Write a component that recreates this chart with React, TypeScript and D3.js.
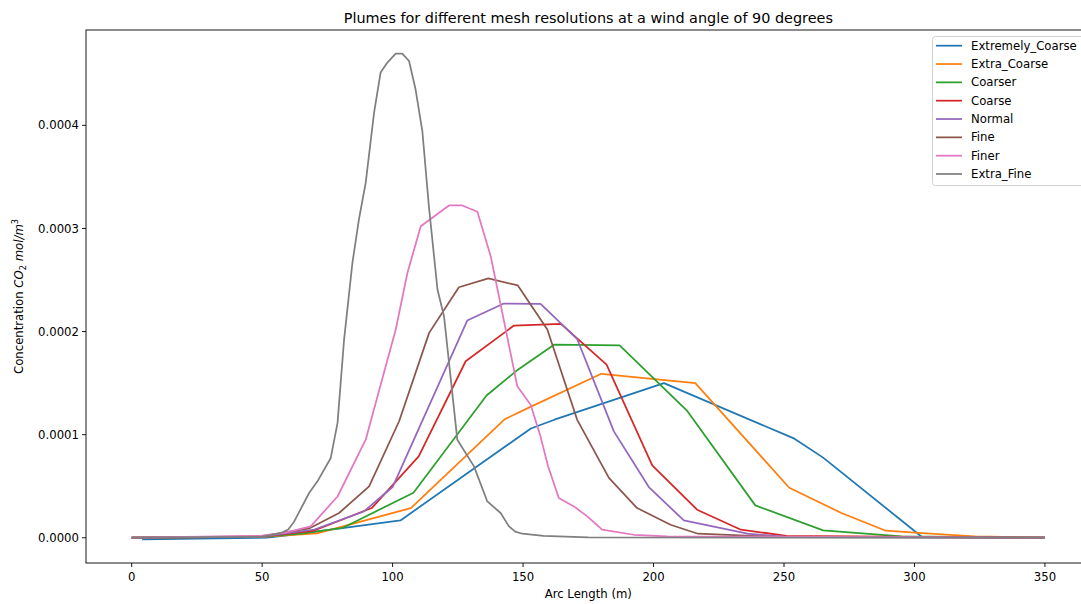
import React from "react";
import * as d3 from "d3";

const seriesNames = ["Extremely_Coarse", "Extra_Coarse", "Coarser", "Coarse", "Normal", "Fine", "Finer", "Extra_Fine"];
const seriesColors = ["#1f77b4", "#ff7f0e", "#2ca02c", "#d62728", "#9467bd", "#8c564b", "#e377c2", "#7f7f7f"];

const extremelyCoarseX = [4, 52, 62, 80, 103, 153, 162, 204, 254, 265, 303, 350];
const extremelyCoarseY = [-0.0000015, 0, 0.000003, 0.000009, 0.0000168, 0.000106, 0.0001145, 0.00015, 0.0000961, 0.0000777, 0.0000005, 0];

const extraCoarseX = [0, 50, 71, 107, 143, 152, 180, 216, 252, 272, 289, 303, 323, 350];
const extraCoarseY = [0, 0.0000008, 0.0000042, 0.0000288, 0.000115, 0.000126, 0.000159, 0.00015, 0.0000485, 0.000024, 0.0000068, 0.0000045, 0.0000013, 0];

const coarserX = [0, 50, 65, 81, 108, 136, 148, 162, 187, 213, 239, 265, 295, 350];
const coarserY = [0, 0.000001, 0.000004, 0.0000097, 0.0000437, 0.000138, 0.000163, 0.0001874, 0.0001867, 0.0001227, 0.0000314, 0.0000071, 0.0000013, 0];

const coarseX = [0, 50, 70, 92, 110, 128, 146.5, 164.5, 182, 199.5, 216.7, 233.5, 251, 350];
const coarseY = [0, 0.000001, 0.000007, 0.0000288, 0.0000789, 0.0001712, 0.0002058, 0.0002075, 0.000168, 0.0000702, 0.0000272, 0.0000078, 0.0000019, 0];

const normalX = [0, 50, 70, 89, 100, 128.6, 142.6, 156.7, 170.7, 184.8, 198.2, 211.6, 236, 250, 350];
const normalY = [0, 0.000001, 0.000008, 0.0000255, 0.0000492, 0.0002107, 0.0002272, 0.0002269, 0.000193, 0.0001032, 0.0000492, 0.0000168, 0.0000039, 0.000001, 0];

const fineX = [0, 50, 68, 79.5, 91, 102.5, 114, 125.4, 136.7, 148, 159.3, 170.7, 182.9, 193.7, 206.5, 217, 250, 350];
const fineY = [0, 0.0000015, 0.000009, 0.000024, 0.0000498, 0.000113, 0.0001987, 0.000243, 0.0002515, 0.0002447, 0.000202, 0.0001146, 0.000058, 0.0000288, 0.0000126, 0.0000039, 0.0000005, 0];

const finerX = [0, 50, 59, 68.6, 78.9, 89.7, 94.2, 101.2, 105.7, 110.8, 121.6, 126.7, 132.5, 137.6, 147.8, 152.9, 156.5, 159.5, 163.7, 169.5, 174.6, 180.3, 192.4, 205.2, 350];
const finerY = [0, 0.000002, 0.000005, 0.000011, 0.00004, 0.0000951, 0.000137, 0.000202, 0.000257, 0.0003022, 0.0003223, 0.0003223, 0.0003162, 0.0002731, 0.0001469, 0.000129, 0.0001, 0.00007, 0.0000385, 0.0000304, 0.0000207, 0.0000078, 0.0000029, 0.0000013, 0];

const extraFineX = [0, 50, 57.2, 60, 62.3, 68, 71.2, 76.3, 78.9, 81.4, 84.6, 87.1, 89.7, 92.9, 95.4, 98, 101.2, 103.7, 106.3, 108.8, 111.4, 113.9, 117.2, 119.7, 124.8, 131.2, 136.3, 141.4, 144.6, 147, 149.7, 157.8, 175, 350];
const extraFineY = [0, 0.000001, 0.0000046, 0.000008, 0.0000158, 0.0000434, 0.0000547, 0.0000774, 0.0001114, 0.000192, 0.0002667, 0.0003087, 0.0003444, 0.0004123, 0.0004512, 0.0004609, 0.0004696, 0.0004696, 0.0004624, 0.000435, 0.0003945, 0.0003217, 0.0002408, 0.0002149, 0.0000951, 0.0000692, 0.0000352, 0.000024, 0.000011, 0.000006, 0.0000039, 0.0000019, 0.0000003, 0];

const xTicks = [0, 50, 100, 150, 200, 250, 300, 350];
const yTicks = [0, 0.0001, 0.0002, 0.0003, 0.0004];

const titleText = "Plumes for different mesh resolutions at a wind angle of 90 degrees";
const xLabelText = "Arc Length (m)";

const allX = [extremelyCoarseX, extraCoarseX, coarserX, coarseX, normalX, fineX, finerX, extraFineX];
const allY = [extremelyCoarseY, extraCoarseY, coarserY, coarseY, normalY, fineY, finerY, extraFineY];

const W = 1081;
const H = 604;
const left = 86;
const right = 1090.6;
const top = 30;
const bottom = 563;
const FONT = "DejaVu Sans, sans-serif";

export default function App() {
  const x = d3.scaleLinear().domain([-17.5, 367.5]).range([left, right]);
  const y = d3.scaleLinear().domain([-0.0000245, 0.0004925]).range([bottom, top]);
  const line = d3
    .line<[number, number]>()
    .x((d) => x(d[0]))
    .y((d) => y(d[1]));

  const series = seriesNames.map((name, i) => ({
    name,
    color: seriesColors[i],
    pts: allX[i].map((v, j) => [v, allY[i][j]] as [number, number]),
  }));

  const cx = (left + right) / 2;
  const cy = (top + bottom) / 2;

  return (
    <svg
      width={W}
      height={H}
      style={{ position: "absolute", left: 0, top: 0, background: "#fff" }}
      fontFamily={FONT}
    >
      <rect x={0} y={0} width={W} height={H} fill="#fff" />
      <defs>
        <clipPath id="plotclip">
          <rect x={left} y={top} width={right - left} height={bottom - top} />
        </clipPath>
      </defs>
      <g clipPath="url(#plotclip)">
        {series.map((s) => (
          <path
            key={s.name}
            d={line(s.pts) || ""}
            fill="none"
            stroke={s.color}
            strokeWidth={1.75}
            strokeLinejoin="round"
          />
        ))}
      </g>
      {/* spines */}
      <rect x={left} y={top} width={right - left} height={bottom - top} fill="none" stroke="#000" strokeWidth={0.9} />
      {/* x ticks */}
      {xTicks.map((t) => (
        <g key={"x" + t}>
          <line x1={x(t)} x2={x(t)} y1={bottom} y2={bottom + 4} stroke="#000" strokeWidth={0.9} />
          <text x={x(t)} y={bottom + 17.5} fontSize={11.7} textAnchor="middle" fill="#000">
            {t}
          </text>
        </g>
      ))}
      {/* y ticks */}
      {yTicks.map((t) => (
        <g key={"y" + t}>
          <line x1={left - 4} x2={left} y1={y(t)} y2={y(t)} stroke="#000" strokeWidth={0.9} />
          <text x={left - 7} y={y(t)} dy="0.35em" fontSize={11.7} textAnchor="end" fill="#000">
            {t.toFixed(4)}
          </text>
        </g>
      ))}
      {/* title */}
      <text x={cx} y={23} fontSize={14.4} textAnchor="middle" fill="#000">
        {titleText}
      </text>
      {/* x label */}
      <text x={cx} y={598} fontSize={11.7} textAnchor="middle" fill="#000">
        {xLabelText}
      </text>
      {/* y label */}
      <text
        transform={`translate(23,${cy}) rotate(-90)`}
        fontSize={11.7}
        textAnchor="middle"
        fill="#000"
      >
        <tspan>Concentration </tspan>
        <tspan fontStyle="italic">CO</tspan>
        <tspan fontSize={8.2} dy={3}>2</tspan>
        <tspan dy={-3}> </tspan>
        <tspan fontStyle="italic">mol/m</tspan>
        <tspan fontSize={8.2} dy={-5}>3</tspan>
      </text>
      {/* legend */}
      <g>
        <rect x={932.5} y={36.5} width={165} height={149} rx={3} fill="#fff" fillOpacity={0.8} stroke="#cccccc" strokeWidth={0.9} />
        {series.map((s, i) => {
          const ry = 45.7 + i * 18.33;
          return (
            <g key={"lg" + s.name}>
              <line x1={936} x2={962} y1={ry} y2={ry} stroke={s.color} strokeWidth={1.75} />
              <text x={971} y={ry} dy="0.35em" fontSize={11.7} fill="#000">
                {s.name}
              </text>
            </g>
          );
        })}
      </g>
    </svg>
  );
}
